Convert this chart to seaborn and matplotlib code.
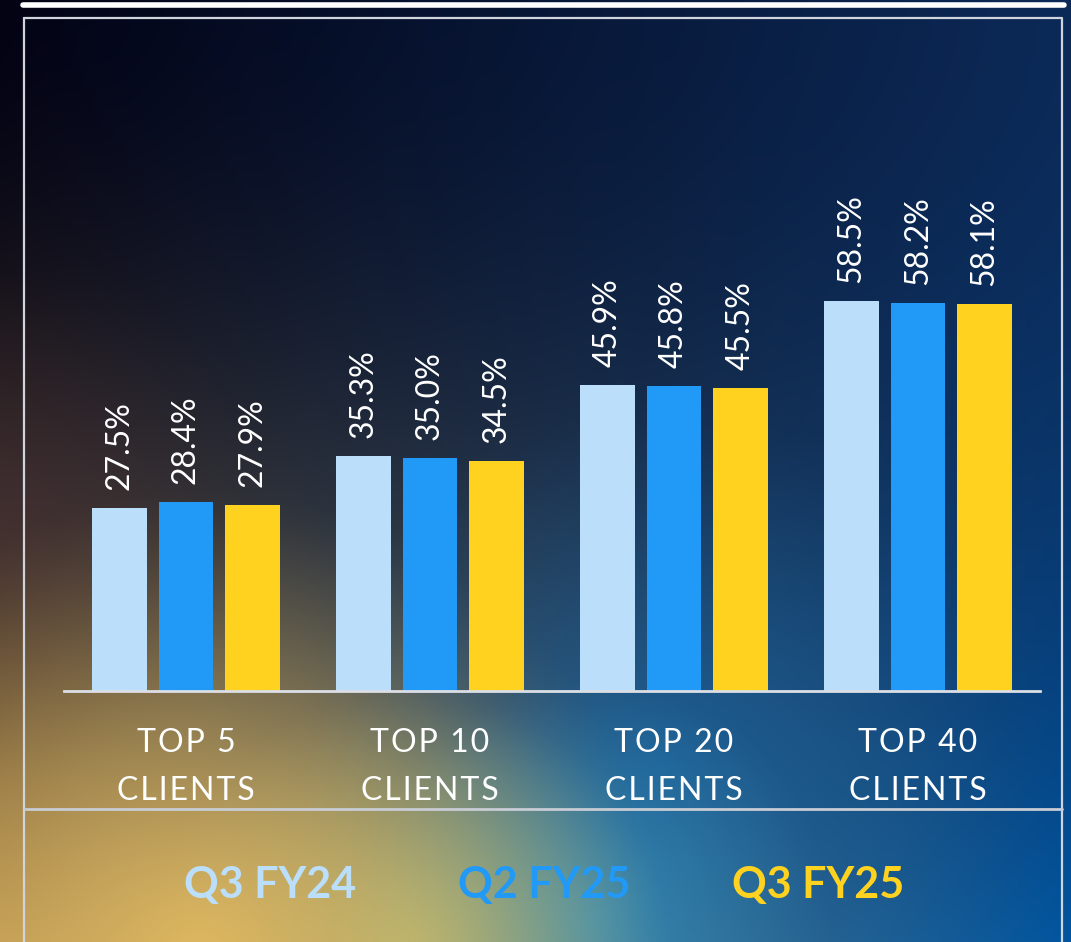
import matplotlib.pyplot as plt
import seaborn as sns
import pandas as pd
import numpy as np

# Data
categories = ["TOP 5\nCLIENTS", "TOP 10\nCLIENTS", "TOP 20\nCLIENTS", "TOP 40\nCLIENTS"]
periods = ["Q3 FY24", "Q2 FY25", "Q3 FY25"]
q3_fy24 = [27.5, 35.3, 45.9, 58.5]
q2_fy25 = [28.4, 35.0, 45.8, 58.2]
q3_fy25 = [27.9, 34.5, 45.5, 58.1]

colors = {"Q3 FY24": "#BBDEFB", "Q2 FY25": "#2199F7", "Q3 FY25": "#FFD21F"}

df = pd.DataFrame({
    "category": categories * 3,
    "period": [p for p in periods for _ in categories],
    "share": q3_fy24 + q2_fy25 + q3_fy25,
})

W, H = 1071, 942

sns.set_theme(style="white")
plt.rcParams['font.family'] = ['Lato', 'DejaVu Sans']


def background(w, h):
    # layered gradient: dark navy top-left, blue right, warm glow bottom-left
    yy, xx = np.mgrid[0:h, 0:w].astype(float)
    u = (xx / w)[..., None]
    v = ((yy / h) ** 1.8)[..., None]
    tl = np.array([3, 3, 20])
    tr = np.array([12, 42, 88])
    bl = np.array([175, 140, 80])
    br = np.array([0, 85, 160])
    img = (1 - u) * (1 - v) * tl + u * (1 - v) * tr + (1 - u) * v * bl + u * v * br

    def glow(img, cx, cy, r, col, power=1.6, strength=1.0):
        d = np.sqrt((xx - cx) ** 2 + (yy - cy) ** 2)
        wgt = (np.clip(1 - d / r, 0, 1) ** power * strength)[..., None]
        return img * (1 - wgt) + np.array(col) * wgt

    img = glow(img, 0, 520, 260, [70, 45, 55], 1.2, 0.5)
    img = glow(img, 660, 760, 360, [20, 100, 165], 1.2, 0.7)
    img = glow(img, 590, 920, 240, [50, 140, 185], 1.1, 0.9)
    img = glow(img, 410, 950, 260, [170, 185, 120], 1.2, 0.9)
    img = glow(img, 200, 960, 470, [225, 185, 95], 1.3, 1.0)
    return np.clip(img, 0, 255) / 255


fig = plt.figure(figsize=(W / 100, H / 100), dpi=100)

# background + frame in pixel coordinates
bg = fig.add_axes([0, 0, 1, 1], zorder=0)
bg.imshow(background(W, H), extent=[0, W, H, 0], aspect="auto")
bg.set_xlim(0, W)
bg.set_ylim(H, 0)
bg.axis("off")
bg.plot([23, 1064], [5, 5], color="white", lw=4)
bg.plot([24, 1062, 1062, 24, 24], [18, 18, H + 5, H + 5, 18], color="#d0d4dc", lw=1.6)
bg.plot([24, 1062], [809, 809], color="#c8ccd4", lw=2)

# bar chart
ax = fig.add_axes([64 / W, (H - 691) / H, 976 / W, 75 * 6.66 / H], zorder=1)
ax.patch.set_alpha(0)
sns.barplot(data=df, x="category", y="share", hue="period", hue_order=periods,
            palette=colors, width=0.82, gap=0.18, saturation=1, linewidth=0,
            legend=False, ax=ax)

for container in ax.containers:
    ax.bar_label(container, fmt="%.1f%%", rotation=90, padding=13,
                 color="white", fontsize=23)

ax.set_xlim(-0.5, 3.5)
ax.set_ylim(0, 75)
ax.set_xlabel("")
ax.set_ylabel("")
ax.set_yticks([])
for side in ["top", "right", "left"]:
    ax.spines[side].set_visible(False)
ax.spines["bottom"].set_color("#dcdfe6")
ax.spines["bottom"].set_linewidth(2)

# spaced-out category labels
hair = "\u200a"
spaced = ["\n".join(hair.join(line) for line in c.split("\n")) for c in categories]
ax.set_xticks(range(len(categories)))
ax.set_xticklabels(spaced, linespacing=1.72)
ax.tick_params(axis="x", length=0, pad=27, labelsize=23, labelcolor="white")

# legend as coloured text
for name, xpix in zip(periods, [270, 544, 818]):
    fig.text(xpix / W, (H - 885) / H, name, color=colors[name], fontsize=31,
             fontweight="bold", ha="center", va="center")

plt.savefig("out.png", dpi=100)
plt.close()
